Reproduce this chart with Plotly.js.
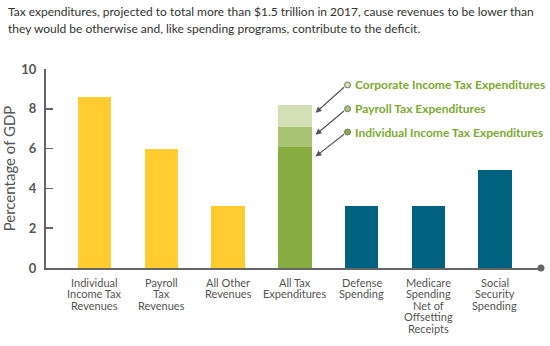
<!DOCTYPE html>
<html><head><meta charset="utf-8">
<script src="https://cdn.plot.ly/plotly-3.0.1.min.js"></script>
<style>body{margin:0}#c{width:550px;height:346px}</style>
</head><body><div id="c"></div>
<script>
const categories = ["Individual<br>Income Tax<br>Revenues","Payroll<br>Tax<br>Revenues","All Other<br>Revenues","All Tax<br>Expenditures","Defense<br>Spending","Medicare<br>Spending<br>Net of<br>Offsetting<br>Receipts","Social<br>Security<br>Spending"];
const revenues = [8.6, 6.0, 3.1, null, null, null, null];
const indivTaxExp = [null, null, null, 6.1, null, null, null];
const payrollTaxExp = [null, null, null, 1.0, null, null, null];
const corpTaxExp = [null, null, null, 1.1, null, null, null];
const spending = [null, null, null, null, 3.1, 3.1, 4.9];
const legendLabels = ["Corporate Income Tax Expenditures","Payroll Tax Expenditures","Individual Income Tax Expenditures"];
const titleLines = ["Tax expenditures, projected to total more than $1.5 trillion in 2017, cause revenues to be lower than","they would be otherwise and, like spending programs, contribute to the deficit."];
const yTicks = [0, 2, 4, 6, 8, 10];

const FONT = "Lato, 'Open Sans', sans-serif";
const idx = categories.map((_, i) => i);
const colors = {yellow:"#FFCD30", green:"#87AD40", mid:"#A8C474", light:"#D3DFB5", teal:"#00627E"};
const bw = 0.5;
const traces = [
  {type:"bar", x:idx, y:revenues, marker:{color:colors.yellow}, width:bw},
  {type:"bar", x:idx, y:indivTaxExp, marker:{color:colors.green}, width:bw},
  {type:"bar", x:idx, y:payrollTaxExp, marker:{color:colors.mid}, width:bw},
  {type:"bar", x:idx, y:corpTaxExp, marker:{color:colors.light}, width:bw},
  {type:"bar", x:idx, y:spending, marker:{color:colors.teal}, width:bw}
];
const circY = [9.2, 8.0, 6.83];
const tipY = [7.8, 6.7, 5.6];
traces.push({type:"scatter", mode:"markers", x:[3.79,3.79,3.79], y:circY,
  marker:{size:6, color:[colors.light, colors.mid, colors.green], line:{color:"#777", width:1}}, hoverinfo:"skip", cliponaxis:false});

const annotations = [];
legendLabels.forEach((t, i) => {
  annotations.push({x:3.31, y:tipY[i], xref:"x", yref:"y", ax:3.76, ay:circY[i]-0.05, axref:"x", ayref:"y",
    showarrow:true, arrowhead:2, arrowsize:1, arrowwidth:1.2, arrowcolor:"#555", text:""});
  annotations.push({x:3.87, y:circY[i], xref:"x", yref:"y", xanchor:"left", yanchor:"middle", showarrow:false,
    text:"<b>"+t+"</b>", font:{family:FONT, size:12, color:"#7EA934"}});
});
// category labels, one annotation per line for tight line spacing
categories.forEach((c, i) => {
  c.split("<br>").forEach((line, k) => {
    annotations.push({x:i, y:0, xref:"x", yref:"paper", xanchor:"center", yanchor:"middle", showarrow:false,
      borderpad:0, yshift:-(14 + k*11.6), text:line, font:{family:FONT, size:11, color:"#555"}});
  });
});
// title lines (pixel positions converted to paper coordinates)
const plotW = 550 - 46 - 9, plotH = 346 - 69 - 78;
titleLines.forEach((line, k) => {
  annotations.push({x:(6 - 46) / plotW, y:(268 - [12, 28][k]) / plotH, xref:"paper", yref:"paper", showarrow:false,
    text:line, xanchor:"left", yanchor:"middle", font:{family:FONT, size:12, color:"#333"}});
});

const layout = {
  width:550, height:346,
  margin:{l:46, r:9, t:69, b:78},
  paper_bgcolor:"#fff", plot_bgcolor:"#fff",
  showlegend:false, barmode:"stack",
  font:{family:FONT, color:"#555"},
  xaxis:{range:[-0.73, 6.69], tickmode:"array", tickvals:idx, showticklabels:false, showgrid:false, zeroline:false,
    showline:true, linecolor:"#666", linewidth:2, ticks:"", fixedrange:true},
  yaxis:{range:[0, 10], tickmode:"array", tickvals:yTicks, ticktext:yTicks.map(v => "<b>"+v+"</b>"), showgrid:false, zeroline:false,
    showline:true, linecolor:"#666", linewidth:2, ticks:"inside", ticklen:7, tickcolor:"#666", tickwidth:1.5,
    ticklabelstandoff:5,
    tickfont:{size:13, color:"#555"},
    title:{text:"Percentage of GDP", standoff:6, font:{size:15, color:"#555"}}},
  shapes:[{type:"circle", xref:"paper", yref:"paper", xsizemode:"pixel", ysizemode:"pixel",
    xanchor:1, yanchor:0, x0:-3.5, x1:3.5, y0:-3.5, y1:3.5, fillcolor:"#666", line:{width:0}}],
  annotations:annotations
};
Plotly.newPlot("c", traces, layout, {staticPlot:true, displayModeBar:false});
</script></body></html>
